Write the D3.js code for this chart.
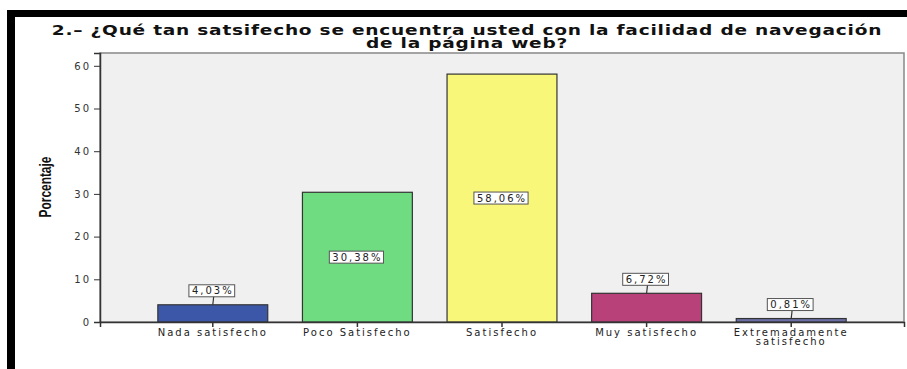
<!DOCTYPE html>
<html><head><meta charset="utf-8">
<script src="https://cdn.jsdelivr.net/npm/d3@7"></script>
<style>
html,body{margin:0;padding:0;background:#fff;}
svg{display:block;}
</style></head>
<body>
<svg id="c" width="907" height="369"></svg>
<script>
const categories = ["Nada satisfecho","Poco Satisfecho","Satisfecho","Muy satisfecho","Extremadamente satisfecho"];
const values = [4.03, 30.38, 58.06, 6.72, 0.81];
const valueLabels = ["4,03%","30,38%","58,06%","6,72%","0,81%"];
const colors = ["#3d57a8","#70dc82","#f8f77a","#b9417a","#6b6fa6"];
const yTicks = [0,10,20,30,40,50,60];
const titleLines = ["2.– ¿Qué tan satsifecho se encuentra usted con la facilidad de navegación","de la página web?"];
const yTitle = "Porcentaje";

const svg = d3.select("#c");
// black frame
svg.append("rect").attr("x",7).attr("y",10).attr("width",900).attr("height",7).attr("fill","#000");
svg.append("rect").attr("x",7).attr("y",10).attr("width",8).attr("height",359).attr("fill","#000");

const L=100, R=904, T=53, B=322;
const x = d3.scaleBand().domain(categories).range([L,R]).paddingInner(0.24).paddingOuter(0.4);
const y = d3.scaleLinear().domain([0,63]).range([B,T]);

svg.append("rect").attr("x",L).attr("y",T).attr("width",R-L).attr("height",B-T)
  .attr("fill","#f0f0f0").attr("stroke","#888").attr("stroke-width",1.5);

// title
const tt = svg.append("text").attr("text-anchor","middle")
  .attr("font-family","DejaVu Sans").attr("font-weight","bold").attr("font-size",14.5)
  .attr("letter-spacing","0.6px").attr("fill","#111");
const tsp = tt.selectAll("tspan").data(titleLines).join("tspan")
  .attr("x",0).attr("y",(d,i)=>i?48:35.5).text(d=>d);
const w0 = tt.node().getBBox().width;
const sx = 831 / w0;
tt.attr("transform",`translate(467,0) scale(${sx},1)`);

// bars
svg.append("g").selectAll("rect").data(values).join("rect")
  .attr("x",(d,i)=>x(categories[i])).attr("width",x.bandwidth())
  .attr("y",d=>y(d)).attr("height",d=>B-y(d))
  .attr("fill",(d,i)=>colors[i]).attr("stroke","#333").attr("stroke-width",1.2);

// y axis
const ya = svg.append("g").attr("transform",`translate(${L},0)`)
  .call(d3.axisLeft(y).tickValues(yTicks).tickSize(6).tickPadding(3));
ya.select(".domain").attr("stroke","#333").attr("stroke-width",1.5);
ya.selectAll(".tick line").attr("stroke","#333");
ya.selectAll("text").attr("font-family","DejaVu Sans").attr("font-size",10).attr("letter-spacing","2px").attr("fill","#333");

// x axis
const xa = svg.append("g").attr("transform",`translate(0,${B})`)
  .call(d3.axisBottom(x).tickSize(5).tickPadding(2));
xa.select(".domain").attr("stroke","#333").attr("stroke-width",1.5);
xa.selectAll(".tick line").attr("stroke","#333").attr("stroke-width",1.5);
xa.selectAll(".tick text").attr("font-family","DejaVu Sans").attr("font-size",10).attr("letter-spacing","2px").attr("fill","#222")
  .each(function(d){
    const t=d3.select(this); t.text(null);
    const words = d==="Extremadamente satisfecho" ? ["Extremadamente","satisfecho"] : [d];
    words.forEach((w,i)=>t.append("tspan").attr("x",0).attr("dy",i? "0.85em":"0.71em").text(w));
  });

// y title
svg.append("text").attr("text-anchor","middle")
  .attr("font-family","Liberation Sans Narrow, Liberation Sans").attr("font-weight","bold").attr("font-size",17)
  .attr("fill","#111")
  .attr("transform","translate(51,187) rotate(-90) scale(0.7,1)")
  .text(yTitle);

// value labels
const lg = svg.append("g");
values.forEach((v,i)=>{
  const cx = x(categories[i]) + x.bandwidth()/2;
  const inside = v > 20;
  const cy = inside ? (y(v)+B)/2 : y(v) - 14;
  const g = lg.append("g");
  if(!inside){
    g.append("line").attr("x1",cx).attr("x2",cx+1).attr("y1",y(v)).attr("y2",cy+5).attr("stroke","#333").attr("stroke-width",1.2);
  }
  const t = g.append("text").attr("x",cx).attr("y",cy).attr("dy","0.35em").attr("text-anchor","middle")
    .attr("font-family","DejaVu Sans").attr("font-size",10).attr("letter-spacing","2px").attr("fill","#222").text(valueLabels[i]);
  const bb = t.node().getBBox();
  g.insert("rect","text").attr("x",bb.x-3).attr("y",cy-6).attr("width",bb.width+4).attr("height",12)
    .attr("fill","#fff").attr("stroke","#555").attr("stroke-width",1);
});
</script>
</body></html>
